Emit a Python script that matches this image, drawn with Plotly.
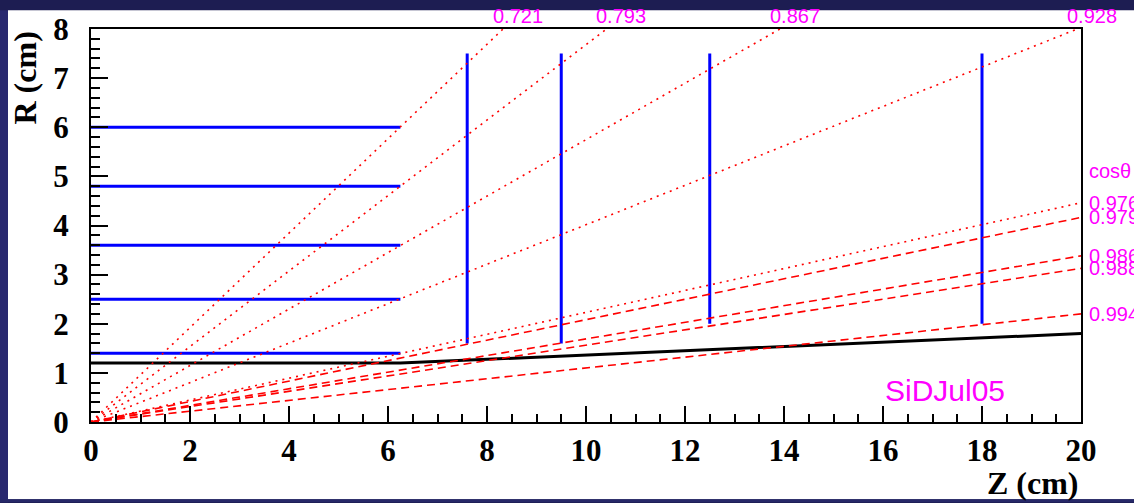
import numpy as np
import plotly.graph_objects as go

# --- detector geometry (cm) ---
barrel_r = [1.4, 2.5, 3.6, 4.8, 6.0]
barrel_zmax = 6.25
disk_z = [7.6, 9.5, 12.5, 18.0]
disk_rmin = [1.6, 1.6, 2.0, 2.0]
disk_rmax = 7.5
beampipe_z = [0.0, 6.25, 20.0]
beampipe_r = [1.2, 1.2, 1.8]

# --- polar-angle reference lines (cos theta) ---
cos_dotted = [0.721, 0.793, 0.867, 0.928, 0.976]
cos_dashed = [0.979, 0.986, 0.988, 0.994]
top_labels = ["0.721", "0.793", "0.867", "0.928"]
side_labels = ["0.976", "0.979", "0.986", "0.988", "0.994"]

Z_MAX, R_MAX = 20.0, 8.0
W, H = 1134, 503
ML, MR, MT, MB = 91, 53, 25, 81
PW, PH = W - ML - MR, H - MT - MB

BLUE = "#0000ff"
RED = "#ff0000"
MAGENTA = "#ff00ff"


def px(x):
    return (x - ML) / PW


def py(y):
    return 1 - (y - MT) / PH


def ray(c):
    t = np.sqrt(1 - c * c) / c
    z_end = min(Z_MAX, R_MAX / t)
    return [0.0, z_end], [0.0, z_end * t]


fig = go.Figure()

# beam pipe
fig.add_trace(go.Scatter(x=beampipe_z, y=beampipe_r, mode="lines",
                         line=dict(color="black", width=3)))

# barrel layers
for r in barrel_r:
    fig.add_trace(go.Scatter(x=[0, barrel_zmax], y=[r, r], mode="lines",
                             line=dict(color=BLUE, width=3)))

# forward disks
for z, rmin in zip(disk_z, disk_rmin):
    fig.add_trace(go.Scatter(x=[z, z], y=[rmin, disk_rmax], mode="lines",
                             line=dict(color=BLUE, width=3)))

# constant-theta rays
for c in cos_dotted:
    zz, rr = ray(c)
    fig.add_trace(go.Scatter(x=zz, y=rr, mode="lines",
                             line=dict(color=RED, width=1.6, dash="2px,5px")))
for c in cos_dashed:
    zz, rr = ray(c)
    fig.add_trace(go.Scatter(x=zz, y=rr, mode="lines",
                             line=dict(color=RED, width=1.6, dash="8px,5px")))

lab_font = dict(family="Liberation Sans", size=20, color=MAGENTA)
annotations = []
for c, txt in zip(cos_dotted[:4], top_labels):
    zz, rr = ray(c)
    annotations.append(dict(x=zz[1], y=1, xref="x", yref="paper", text=txt,
                            showarrow=False, xanchor="left", yanchor="bottom",
                            xshift=-12, font=lab_font))

side_cos = cos_dotted[4:] + cos_dashed
for c, txt in zip(side_cos, side_labels):
    zz, rr = ray(c)
    annotations.append(dict(x=Z_MAX, y=rr[1], xref="x", yref="y", text=txt,
                            showarrow=False, xanchor="left", yanchor="middle",
                            xshift=6, font=lab_font))
annotations.append(dict(x=Z_MAX, y=5.1, xref="x", yref="y", text="cosθ",
                        showarrow=False, xanchor="left", yanchor="middle",
                        xshift=6, font=lab_font))
annotations.append(dict(x=16.0, y=0.64, xref="x", yref="y", text="SiDJul05",
                        showarrow=False, xanchor="left", yanchor="middle",
                        font=dict(family="Liberation Sans", size=30, color=MAGENTA)))

title_font = dict(family="Liberation Serif", size=32, color="black", weight="bold")
annotations.append(dict(x=px(25), y=py(26), xref="paper", yref="paper",
                        text="R (cm)", textangle=-90, showarrow=False,
                        xanchor="center", yanchor="top", font=title_font))
annotations.append(dict(x=px(1081), y=py(484), xref="paper", yref="paper",
                        text="Z (cm)", showarrow=False,
                        xanchor="right", yanchor="middle", font=title_font))

shapes = [
    # white canvas inside the navy frame
    dict(type="rect", xref="paper", yref="paper", layer="below",
         x0=px(8), x1=px(W), y0=py(500), y1=py(6),
         fillcolor="white", line=dict(width=0)),
    # slightly lighter left and bottom frame strips
    dict(type="rect", xref="paper", yref="paper", layer="below",
         x0=px(0), x1=px(8), y0=py(H), y1=py(6),
         fillcolor="#28286f", line=dict(width=0)),
    dict(type="rect", xref="paper", yref="paper", layer="below",
         x0=px(0), x1=px(W), y0=py(H), y1=py(500),
         fillcolor="#262868", line=dict(width=0)),
]

tick_font = dict(family="Liberation Serif", size=31, color="black", weight="bold")

fig.update_layout(
    width=W, height=H,
    margin=dict(l=ML, r=MR, t=MT, b=MB),
    paper_bgcolor="#1d1d52",
    plot_bgcolor="white",
    showlegend=False,
    annotations=annotations,
    shapes=shapes,
    hovermode=False,
)

fig.update_xaxes(
    range=[0, Z_MAX], tickmode="linear", tick0=0, dtick=2,
    ticks="inside", ticklen=16, tickwidth=2, tickcolor="black",
    minor=dict(ticks="inside", ticklen=8, tickwidth=1.5, dtick=0.5, tickcolor="black"),
    showline=True, linecolor="black", linewidth=2, mirror=True,
    showgrid=False, zeroline=False, tickfont=tick_font, ticklabelstandoff=0,
)
fig.update_yaxes(
    range=[0, R_MAX], tickmode="linear", tick0=0, dtick=1,
    ticks="inside", ticklen=17, tickwidth=2, tickcolor="black",
    minor=dict(ticks="inside", ticklen=9, tickwidth=1.5, dtick=0.2, tickcolor="black"),
    showline=True, linecolor="black", linewidth=2, mirror=True,
    showgrid=False, zeroline=False, tickfont=tick_font, ticklabelstandoff=14,
)

fig.write_html("out.html")
